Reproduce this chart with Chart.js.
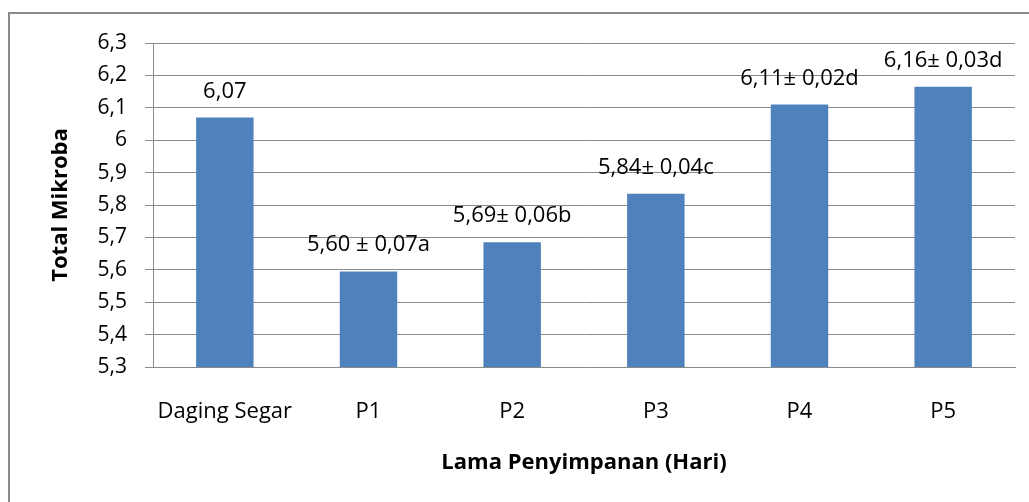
<!DOCTYPE html>
<html>
<head>
<meta charset="utf-8">
<script src="https://cdn.jsdelivr.net/npm/chart.js@4"></script>
<style>
  html, body { margin: 0; padding: 0; background: #fff; }
  canvas { display: block; }
</style>
</head>
<body>
<canvas id="myChart" width="1029" height="502"></canvas>
<script>
const categories = ['Daging Segar', 'P1', 'P2', 'P3', 'P4', 'P5'];
const totalMikroba = [6.07, 5.595, 5.685, 5.835, 6.11, 6.165];
const barLabels = ['6,07', '5,60 ± 0,07a', '5,69± 0,06b', '5,84± 0,04c', '6,11± 0,02d', '6,16± 0,03d'];
const yMin = 5.3;
const yMax = 6.3;

const font = '"Open Sans"';

// gray frame around the whole chart (only top and left fall inside the picture)
const framePlugin = {
  id: 'frame',
  beforeDraw(chart) {
    const c = chart.ctx;
    c.save();
    c.fillStyle = '#fff';
    c.fillRect(0, 0, chart.width, chart.height);
    c.strokeStyle = '#8a8a8a';
    c.lineWidth = 2;
    c.beginPath();
    c.moveTo(9, chart.height);
    c.lineTo(9, 13);
    c.lineTo(chart.width, 13);
    c.stroke();
    c.restore();
  },
};

// text above each bar
const barLabelPlugin = {
  id: 'barLabels',
  afterDatasetsDraw(chart) {
    const c = chart.ctx;
    const meta = chart.getDatasetMeta(0);
    c.save();
    c.font = '22px ' + font;
    c.fillStyle = '#000';
    c.textAlign = 'center';
    c.textBaseline = 'alphabetic';
    meta.data.forEach((bar, i) => {
      c.fillText(barLabels[i], bar.x, bar.y - 20);
    });
    c.restore();
  },
};

const ctx = document.getElementById('myChart').getContext('2d');
const chart = new Chart(ctx, {
  type: 'bar',
  data: {
    labels: categories,
    datasets: [
      {
        label: 'Total Mikroba',
        data: totalMikroba,
        backgroundColor: '#4F81BD',
        borderWidth: 0,
        barPercentage: 0.4,
        categoryPercentage: 1,
      },
    ],
  },
  options: {
    responsive: false,
    animation: false,
    layout: {
      padding: { left: 44, right: 14, top: 43, bottom: 22 },
    },
    plugins: {
      legend: { display: false },
      tooltip: { enabled: false },
    },
    scales: {
      x: {
        grid: { display: false },
        border: { display: true, color: '#8a8a8a', width: 1 },
        ticks: {
          color: '#000',
          padding: 24,
          maxRotation: 0,
          font: { family: font, size: 22 },
        },
        title: {
          display: true,
          text: 'Lama Penyimpanan (Hari)',
          color: '#000',
          font: { family: font, size: 22, weight: 'bold' },
          padding: { top: 4, bottom: 4 },
        },
        afterFit(scale) {
          scale.height = 113;
        },
      },
      y: {
        min: yMin,
        max: yMax,
        grid: {
          color: '#8a8a8a',
          lineWidth: 1,
          tickLength: 8,
          drawTicks: true,
        },
        border: { display: true, color: '#8a8a8a', width: 1 },
        ticks: {
          stepSize: 0.1,
          color: '#000',
          padding: 18,
          font: { family: font, size: 21 },
          callback: (v) => String(Math.round(v * 10) / 10).replace('.', ','),
        },
        title: {
          display: true,
          text: 'Total Mikroba',
          color: '#000',
          font: { family: font, size: 22, weight: 'bold' },
          padding: { top: 4, bottom: 4 },
        },
        afterFit(scale) {
          scale.width = 109;
        },
      },
    },
  },
  plugins: [framePlugin, barLabelPlugin],
});
</script>
</body>
</html>
